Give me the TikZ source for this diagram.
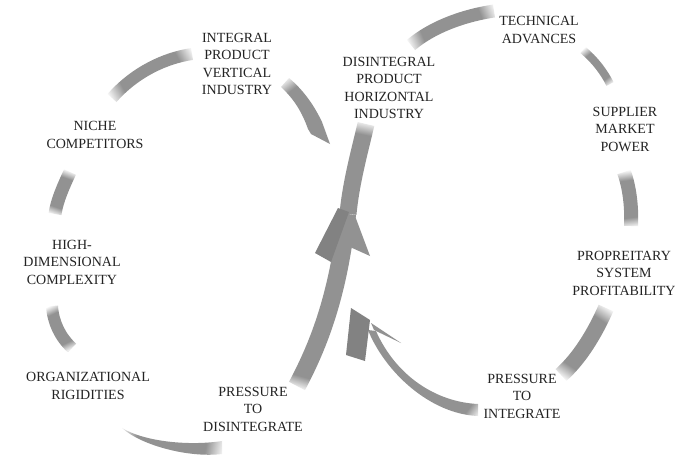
\documentclass[tikz,border=0pt]{standalone}
\usepackage{fontspec}
\setmainfont{Liberation Serif}
\usetikzlibrary{fadings}
\definecolor{rib}{RGB}{146,146,146}
\definecolor{ribdark}{RGB}{130,130,130}
\definecolor{ink}{RGB}{35,35,35}
\pgfdeclarehorizontalshading{ribbothsh}{100bp}{color(0bp)=(pgftransparent!100); color(18bp)=(pgftransparent!0); color(82bp)=(pgftransparent!0); color(100bp)=(pgftransparent!100)}
\pgfdeclarefading{ribboth}{\pgfuseshading{ribbothsh}}
\pgfdeclarehorizontalshading{ribstartsh}{100bp}{color(0bp)=(pgftransparent!100); color(14bp)=(pgftransparent!0); color(100bp)=(pgftransparent!0)}
\pgfdeclarefading{ribstart}{\pgfuseshading{ribstartsh}}
\pgfdeclarehorizontalshading{ribstartlongsh}{100bp}{color(0bp)=(pgftransparent!100); color(7bp)=(pgftransparent!0); color(100bp)=(pgftransparent!0)}
\pgfdeclarefading{ribstartlong}{\pgfuseshading{ribstartlongsh}}
\begin{document}
\begin{tikzpicture}[x=1pt,y=-1pt,
  lab/.style={font=\fontsize{14}{17.5}\selectfont, text=ink, align=center, inner sep=0pt},
  ribbon/.style={draw=rib, line width=#1, line cap=butt},
  ribfill/.style={fill=rib, draw=none},
  fd/.style n args={5}{path fading=#1, fit fading=false,
     fading transform={shift={(#2,#3)}, rotate=#4, xscale=#5}}]
\useasboundingbox[fill=white] (0,0) rectangle (677,468);

% ---- left loop ----
\coordinate (a1) at (112,98); \coordinate (a2) at (192,54);
\draw[ribbon=12, fd={ribboth}{152}{76}{28.8}{0.968}] (a1) .. controls (135,72) and (165,58) .. (a2);

\coordinate (b1) at (284,82); \coordinate (b2) at (330,144);
\fill[ribfill, fd={ribstart}{312}{119.7}{-53.4}{1}] (281,87) .. controls (294,99) and (302,112) .. (308,129)
  -- (311,134) -- (b2) -- (322,122) .. controls (313,103) and (302,89) .. (289,78) -- cycle;

\coordinate (c1) at (70,172); \coordinate (c2) at (55,214);
\draw[ribbon=13, fd={ribboth}{62.5}{193}{-109.65}{0.473}] (c1) .. controls (64,185) and (57,200) .. (c2);

\coordinate (d1) at (52,306); \coordinate (d2) at (72,348);
\draw[ribbon=12, fd={ribboth}{62}{327}{-64.54}{0.493}] (d1) .. controls (53,322) and (60,337) .. (d2);

\coordinate (e1) at (122,428); \coordinate (e2) at (222,447);
\fill[ribfill, fd={ribboth}{172}{437.5}{-10.76}{1.08}] (e1) .. controls (142,446) and (190,458) .. (222,454)
  -- (222,441) .. controls (190,446) and (145,442) .. (e1) -- cycle;

% ---- central upward arrow ----
\coordinate (f1) at (297,386); \coordinate (f2) at (347,214);
\draw[ribbon=18, fd={ribstartlong}{324.1}{292.8}{73.8}{2}] (f1) .. controls (316,350) and (338,300) .. (f2);
\coordinate (g1) at (348,214); \coordinate (g2) at (366,124);
\draw[ribbon=17, fd={ribstart}{356.6}{170.1}{-101.56}{1}] (g1) .. controls (351,182) and (360,150) .. (g2);
\fill[ribdark] (338,208) -- (349,212) -- (331,262) -- (315,253) -- cycle;
\fill[rib] (355,216) -- (370,256) -- (350,247) -- cycle;

% ---- right loop ----
\coordinate (h1) at (411,45); \coordinate (h2) at (494,11);
\draw[ribbon=13, fd={ribboth}{452.5}{28}{22.3}{0.955}] (h1) .. controls (431,28) and (461,16) .. (h2);

\coordinate (i1) at (583,50); \coordinate (i2) at (610,84);
\draw[ribbon=8, fd={ribboth}{596.5}{67}{-51.55}{0.46}] (i1) .. controls (595,60) and (604,72) .. (i2);

\coordinate (j1) at (624,172); \coordinate (j2) at (631,226);
\draw[ribbon=14, fd={ribboth}{627.5}{199}{-82.6}{0.578}] (j1) .. controls (629,186) and (632,205) .. (j2);

\coordinate (k1) at (606,308); \coordinate (k2) at (561,375);
\draw[ribbon=16, fd={ribboth}{583.5}{341.5}{-123.9}{0.855}] (k1) .. controls (595,333) and (580,358) .. (k2);

\coordinate (m1) at (478,410); \coordinate (m2) at (351,308);
\fill[ribfill, fd={ribstartlong}{401.8}{353.2}{143.3}{2}] (368,330) .. controls (385,372) and (430,414) .. (478,416)
  -- (478,404) .. controls (436,402) and (396,376) .. (376,331) -- cycle;
\fill[ribdark] (m2) -- (370,320) -- (365,361) -- (346,355) -- cycle;
\fill[rib] (371,323) -- (401,343) -- (374,330) -- cycle;

% ---- labels ----
\node[lab] (ipvi) at (237,64) {INTEGRAL\\PRODUCT\\VERTICAL\\INDUSTRY};
\node[lab] (niche) at (95,135) {NICHE\\COMPETITORS};
\node[lab] (hdc) at (72,262) {HIGH-\\DIMENSIONAL\\COMPLEXITY};
\node[lab] (org) at (88,386) {ORGANIZATIONAL\\RIGIDITIES};
\node[lab] (ptd) at (253,409) {PRESSURE\\TO\\DISINTEGRATE};
\node[lab] (dphi) at (389,88) {DISINTEGRAL\\PRODUCT\\HORIZONTAL\\INDUSTRY};
\node[lab] (tech) at (539,30) {TECHNICAL\\ADVANCES};
\node[lab] (smp) at (625,129) {SUPPLIER\\MARKET\\POWER};
\node[lab] (psp) at (624,273) {PROPREITARY\\SYSTEM\\PROFITABILITY};
\node[lab] (pti) at (522,396) {PRESSURE\\TO\\INTEGRATE};
\end{tikzpicture}
\end{document}
